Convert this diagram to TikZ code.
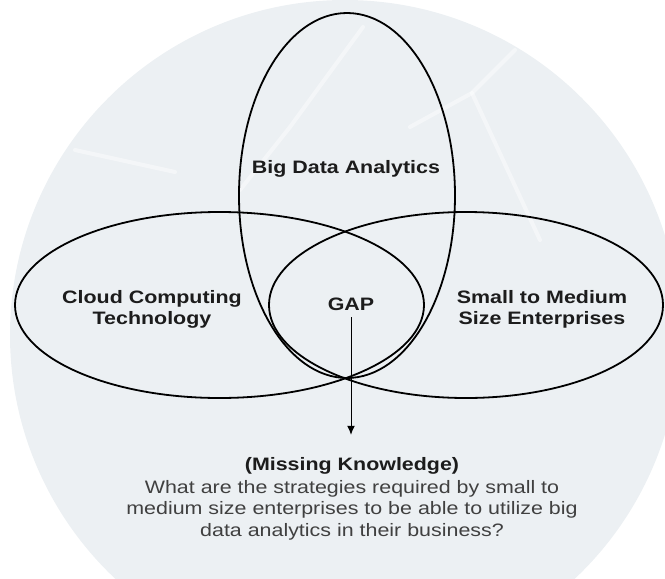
\documentclass[tikz,border=0pt]{standalone}
\usepackage{fontspec}
\setmainfont{Liberation Sans}[FakeStretch=1.19]
\usetikzlibrary{arrows.meta}
\definecolor{bgblue}{RGB}{236,240,243}
\definecolor{labelink}{RGB}{28,28,28}
\definecolor{questionink}{RGB}{64,64,64}

\begin{document}
\begin{tikzpicture}[x=1pt, y=-1pt,
    setring/.style={line width=1.8pt, black},
    setlabel/.style={font=\fontsize{18}{21.5}\selectfont\bfseries, text=labelink, align=center, anchor=base, inner sep=2pt},
    question/.style={font=\fontsize{18}{21.5}\selectfont, text=questionink, align=center, anchor=base, inner sep=2pt},
    gapline/.style={-{Latex[length=9pt, width=8pt]}, line width=1pt, shorten <=5pt, shorten >=20pt}]
  \useasboundingbox (0,0) rectangle (665,579);
  \fill[bgblue] (345,335) circle (335);
  \begin{scope}[white, line width=4pt, opacity=0.45, line cap=round]
    \draw (363,27) -- (290,127) -- (240,190);
    \draw (75,150) -- (175,172);
    \draw (515,50) -- (472,93) -- (410,127);
    \draw (472,93) -- (540,240);
  \end{scope}
  \draw[setring] (347,195.5) ellipse (108 and 182.5);
  \draw[setring] (219.5,305) ellipse (204.5 and 93);
  \draw[setring] (466,305) ellipse (197 and 93);
  \node[setlabel] (bigdata) at (346,173.5) {Big Data Analytics};
  \node[setlabel] (cloud) at (152,324.5) {Cloud Computing\\Technology};
  \node[setlabel] (gap) at (351,310) {GAP};
  \node[setlabel] (sme) at (542,324.5) {Small to Medium\\Size Enterprises};
  \node[setlabel] (missing) at (352,470) {(Missing Knowledge)};
  \node[question] (strategy) at (352,536) {What are the strategies required by small to\\medium size enterprises to be able to utilize big\\data analytics in their business?};
  \draw[gapline] (gap.south) -- (gap.south |- missing.north);
\end{tikzpicture}
\end{document}
